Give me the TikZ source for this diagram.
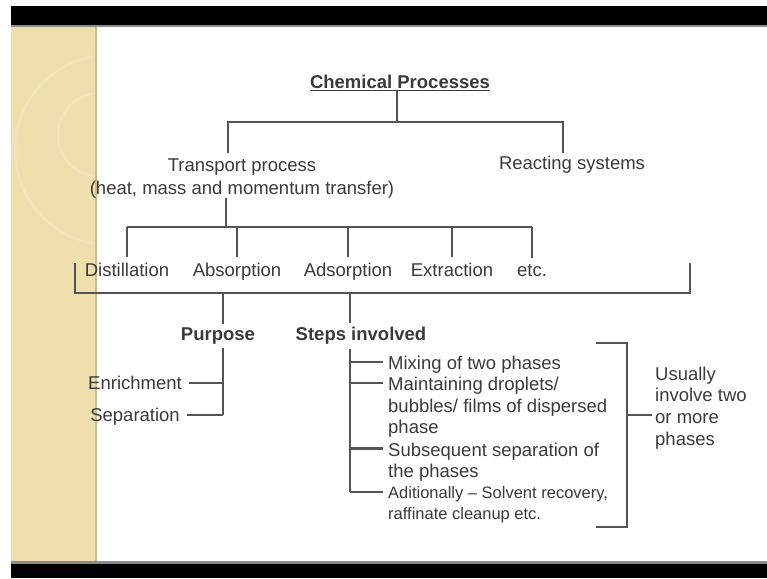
\documentclass[tikz,border=0pt]{standalone}
\usepackage{fontspec}
\setmainfont{Liberation Sans}
\usetikzlibrary{positioning, calc}
\definecolor{slidebeige}{HTML}{EEDFAC}
\definecolor{linegray}{HTML}{545454}
\definecolor{textgray}{HTML}{3A3A3A}

\begin{document}
\begin{tikzpicture}[x=1pt, y=-1pt,
        txt/.style={text=textgray, inner sep=0pt, font=\fontsize{18.5}{21.5}\selectfont},
        heading/.style={txt, font=\fontsize{18.5}{21.5}\selectfont\bfseries},
        smalltxt/.style={txt, font=\fontsize{16.5}{21}\selectfont},
        edge/.style={draw=linegray, line width=2.2pt}
    ]

    % slide background
    \useasboundingbox (0,0) rectangle (767,578);
    \fill[white] (0,0) rectangle (767,578);
    \fill[black] (11,6) rectangle (767,25);
    \fill[black!45] (11,25) rectangle (767,27);
    \fill[black!45] (11,561) rectangle (767,564);
    \fill[black] (11,564) rectangle (767,578);
    \fill[slidebeige] (11,27) rectangle (95,561);
    \begin{scope}
        \clip (11,27) rectangle (95,561);
        \draw[white, opacity=0.18, line width=2.5pt] (110,150) circle[radius=95];
        \draw[white, opacity=0.18, line width=2.5pt] (100,135) circle[radius=42];
    \end{scope}
    \fill[slidebeige!85!black] (95,27) rectangle (97,561);

    % nodes
    \node[heading, anchor=base] (title) at (400,88.5) {\underline{Chemical Processes}};
    \node[txt, anchor=north, align=center, font=\fontsize{18.5}{23}\selectfont] (transport) at (242,158.5)
        {Transport process\\(heat, mass and momentum transfer)};
    \node[txt, anchor=north] (reacting) at (572,155.5) {Reacting systems};

    \foreach \n/\x/\t in {dist/127/Distillation, abso/237/Absorption, adso/348/Adsorption,
                          extr/452/Extraction, etc/532/etc.}
        \node[txt, anchor=base] (\n) at (\x,276.5) {\t};

    \node[heading, anchor=base] (purpose) at (218,340.5) {Purpose};
    \node[heading, anchor=base] (steps) at (361,340.5) {Steps involved};

    \node[txt, anchor=base east] (enrich) at (182,389.6) {Enrichment};
    \node[txt, anchor=base east] (separ) at (180,421.6) {Separation};

    \node[txt, anchor=north west] (mix) at (388,356) {Mixing of two phases};
    \node[txt, anchor=north west, align=left] (maint) at (388,377)
        {Maintaining droplets/\\bubbles/ films of dispersed\\phase};
    \node[txt, anchor=north west, align=left] (subs) at (388,442.5)
        {Subsequent separation of\\the phases};
    \node[smalltxt, anchor=north west, align=left] (addl) at (388,486)
        {Aditionally -- Solvent recovery,\\raffinate cleanup etc.};

    \node[txt, anchor=north west, align=left, font=\fontsize{18.5}{21.7}\selectfont] (usual) at (655,366.5)
        {Usually\\involve two\\or more\\phases};

    % junctions
    \coordinate (top) at (397,122);
    \coordinate (barL) at (228,122);
    \coordinate (barR) at (563,122);
    \coordinate (mid) at (226,227);
    \coordinate (bigL) at (75,263);
    \coordinate (bigR) at (690,263);
    \coordinate (pTop) at (223,348);
    \coordinate (sTop) at (350,349);
    \coordinate (brTop) at (596,343);
    \coordinate (brBot) at (596,527);
    \coordinate (brMid) at (627,415);

    % connectors
    \draw[edge] (title.south -| top) -- (top);
    \draw[edge] ([yshift=6pt]transport.north -| barL) |- (barR) -- ([yshift=3pt]reacting.north -| barR);
    \draw[edge] (transport.south -| mid) -- (mid);
    \draw[edge] (dist.north |- mid) -- (etc.north |- mid);
    \foreach \n in {dist, abso, adso, extr, etc}
        \draw[edge] (\n.north |- mid) -- ([yshift=6pt]\n.north);

    \draw[edge] (bigL) -- ++(0,30) -| (bigR);
    \draw[edge] (pTop |- 0,293) -- ([yshift=4pt]purpose.north -| pTop);
    \draw[edge] (sTop |- 0,293) -- ([yshift=4pt]steps.north -| sTop);

    \draw[edge] (pTop) -- ([yshift=6.6pt]separ.base east -| pTop);
    \foreach \n in {enrich, separ}
        \draw[edge] ([xshift=7pt,yshift=6.6pt]\n.base east) -- ([yshift=6.6pt]\n.base east -| pTop);

    \draw[edge] (sTop) -- ([yshift=-6pt]addl.north west -| sTop);
    \foreach \n in {mix, maint, subs, addl}
        \draw[edge] ([xshift=-5pt,yshift=-6pt]\n.north west) -- ([yshift=-6pt]\n.north west -| sTop);

    \draw[edge] (brTop) -- ++(31,0) |- (brBot);
    \draw[edge] (brMid) -- ([xshift=-3pt]usual.west |- brMid);

\end{tikzpicture}
\end{document}
